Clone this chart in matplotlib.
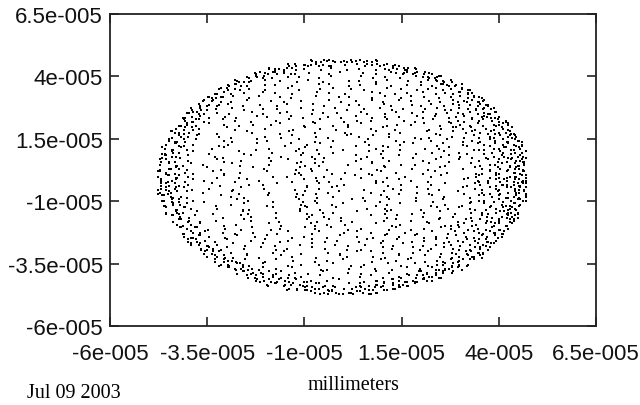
import matplotlib
matplotlib.use("Agg")
import matplotlib.pyplot as plt

# Dot map of the spot.
# A cell is ~1.03e-6 wide and 1.6e-6 high (data units, millimeters).
# Each row: first occupied column, then one char per cell:
# ' ' = empty, 1-9 = one dot, the digit tells where in the cell (keypad order).
grid_x0 = -4.77e-05
grid_y0 = 4.70e-05
cell_w = 1.03e-06
cell_h = 1.60e-06

dot_rows = [
    (38, "52 84" "6 3 1" "75 2 " "28"),
    (32, "3 7 5" "2 8 4" " 1  6" "  9 3" " 5 2 " "7 41"),
    (27, "6 4 2" " 8  5" "   3 " " 7   " "1  4 " "  2 6" " 9  3" "8 5"),
    (24, "48 2 " "7 5  " "1  6 " "   3 " " 8   " "  4  " "2   7" "  5 3" "9 26 "),
    (22, "3 6 8" " 2   " "5  4 " "   1 " " 7   " "   9 " " 3  6" "   2 " "  8 4" "5 17"),
    (19, "7 2 4" "  9  " " 5   " "3  8 " "  1  " "   6 " " 4   " "2  7 " "   5 " " 3 8 " "6 4 2"),
    (17, "5 83 " "1   6" "  4  " " 2   " "   7 " "9    " "3  5 " "  8  " " 1   " "4  6 " " 2 97" "3 5 "),
    (15, "4 7  " "2 6  " " 3   " "  8  " "1    " "5  9 " "   4 " " 2   " "  7  " "6   3" "  5 8" " 1 4 " "9 2"),
    (14, "3 8 1" "  5  " "  7  " "4   2" "     " "9  6 " "  3  " "    8" " 5   " "1  4 " "  7  " "2 6 3" " 8 5 "),
    (12, "6 2 4" " 9   " "3  7 " "   5 " " 1   " "  8  " "   4 " "6    " " 2  9" "   3 " " 7  5" "   1 " " 4 8 " "26 3"),
    (11, "8 5 3" "  1  " " 7   " "  4  " "2   6" "     " " 9  3" "   5 " "  8  " "1   7" "  4  " " 6  2" "  93 " "5 8 1" "4"),
    (10, "2 6  " "4 8  " " 1   " "5   3" "  7  " "   9 " " 2   " "  6  " "4    " " 8 1 " "   5 " "3  7 " " 2 9 " "4 6 3" "8 5"),
    (8, "7 3 1" " 5   " "8  2 " "   4 " " 6   " "  9  " "3    " " 7  1" "   5 " "  8  " "2  4 " "   6 " " 9 3 " "1 7 5" " 2 8 " "4"),
    (7, "4 9 2" "  6  " "3    " " 8  1" "   5 " "7    " " 2  4" "  6  " "   9 " "1   3" "  8  " " 5  7" "  2  " "4 6 1" "9 3 5" "2 8"),
    (6, "1 5 8" " 3   " "6  2 " "   9 " " 4   " "  7  " "1    " " 5  3" "   8 " "  2  " "6   4" "   9 " "1  7 " " 3 5 " "8 2 6" " 4 1 "),
    (6, "6 38 " "2    " "7  4 " "  1  " "   5 " " 9   " "  3 8" "     " "2  6 " "  4  " " 7   " "5  1 " "  9  " " 3 6 " "2 8 4" "7 5 1" "3"),
    (5, "3 7 2" "  9  " " 5   " "1  6 " "   4 " "8    " " 2  7" "   3 " "  5  " "9    " "  1 6" "   4 " " 8   " "2  7 " "5 3 9" " 1 6 " "4 8"),
    (4, "5 2 8" " 4   " "   7 " "1    " "  6  " "    3" "  9  " " 5   " "2  8 " "    4" "  7  " "1    " "   3 " " 6  9" "8 4 7" "1 6 3" " 9 2 "),
    (3, "8 4 6" "  1  " " 3   " "    7" "5    " "  2 9" "     " " 4   " "   6 " "1    " " 8  3" "  5  " "    7" " 2   " "9  6 " "8 5 2" "7 4 9" "1"),
    (3, "2 7 5" " 9   " "  4  " "1    " "   6 " "  3  " "8    " " 5  2" "    7" "  4  " "9   6" "     " " 1  3" "  8  " "5  2 " "9 1 6" "3 8 5" "27"),
    (2, "6 1 3" "  8  " "    5" " 2   " "  9  " "4    " "   7 " "  1  " " 6   " "    3" "8    " "  5 2" "   9 " " 4   " "7   1" " 5 2 " "9 4 7" "1 63"),
    (2, "4 8 2" " 6   " "   1 " "5    " "  9  " "    3" " 7   " "4  8 " "     " "  2  " "6   1" "   5 " " 9   " "  3 7" "    4" "1 9 5" "3 7 4" "8 26"),
    (1, "7 3 9" " 1   " "  5  " "8    " "   2 " " 6   " "    4" "9  3 " "  7  " "1    " "   5 " " 8  2" "     " "6   4" " 9   " "  3 1" "2 6 4" "9 3 7"),
    (1, "1 6 4" "  9  " " 3   " "    7" "2    " "  5  " "   8 " "4   1" "  6  " "     " " 9  3" "7    " "   2 " "  5  " "8   4" " 1   " "2 5 8" "4 1 6" "9"),
    (1, "9 5 2" " 8   " "   4 " "1    " "  7  " " 3  6" "    9" "  5  " "2    " "   8 " " 4   " "1   7" "  3  " "    6" " 9  5" "  2  " "3 6 9" "5 2 8" "4"),
    (0, "3 7 1" "  5  " "    9" " 2   " "6    " "   4 " "  8  " "3   7" " 1   " "    5" "9  2 " "  6  " "     " " 4  8" "  3  " "7    " "4 8 3" "7 1 5" "92"),
    (0, "5 9 3" " 1 7 " " 4   " "   8 " "2    " "  6  " "    9" " 3  7" "1    " "  5  " "   8 " " 2   " "6   4" "  9  " " 3   " "   7 " "2 6 4" "9 3 7" "15"),
    (0, "2 6 8" "4 1  " "  7  " "3    " "   9 " " 5   " "    2" "8  4 " "  1  " "     " "6   3" " 9   " "   5 " "  2  " "8    " " 4  7" "6 3 9" "5 2 8" "41"),
    (0, "8 4 1" " 6 3 " "   9 " " 2   " "5    " "  7  " "    1" "4  8 " "   2 " " 6   " "  3  " "9   5" "     " " 1  7" "  4  " "    2" "3 9 5" "1 7 4" "28"),
    (0, "4 9 2" "7 5  " "    3" " 8   " "1    " "   6 " "  4  " "9   2" " 5   " "    7" "3  8 " "  1  " " 6   " "   4 " "9    " "  2 5" "7 3 8" "1 6 4" "93"),
    (0, "6 2 8" " 3 9 " " 5   " "    1" "  7  " "4    " "   2 " " 8  6" "  3  " "9    " "    5" " 1   " "7  4 " "  2  " "     " " 8  6" "1 5 8" "2 4 7" "36"),
    (0, "9 3 7" "1 5  " "   8 " "2    " "  6  " " 4  9" "     " "  1  " "7   3" " 5   " "    8" "  2  " "6    " "   4 " " 9   " "  1 7" "5 8 2" "6 4 9" "17"),
    (0, "1 7 4" " 8 2 " "  6  " "   3 " "9    " " 5   " "    1" "  7  " "4  8 " "     " " 2   " "   6 " "3   9" "  5  " "1    " " 7  4" "3 9 5" "1 7 4" "82"),
    (0, "5 2 9" "  7  " " 4   " "   8 " "1    " "  6  " "    3" " 9  2" "  5  " "7    " "   4 " " 8   " "1   6" "  3  " "    9" " 2   " "6 3 9" "2 5 7" "48"),
    (1, "7 3 6" " 1   " "    9" "  4  " "2    " " 8   " "   5 " "7  3 " "  6  " "     " "1   9" " 4   " "   2 " "  8  " "5    " " 3  7" "8 5 7" "3 6 1" "9"),
    (1, "4 8 1" "  6  " "2    " "   9 " " 5   " "  3  " "    7" "1  4 " "     " "  8  " "6   2" " 9   " "   5 " "  3  " "7    " "  1 4" "5 3 7" "1 4 8" "6"),
    (1, "3 9 5" " 7   " "   2 " "  4  " "8    " " 1   " "    6" "3  9 " "  5  " "7    " "   2 " " 4  8" "     " "  1  " "6   3" " 9   " "8 1 6" "3 9 5"),
    (2, "7 2 8" " 4   " "  6  " "    1" "3    " " 9   " "   5 " "7  2 " "  8  " "     " "4   6" " 1   " "   3 " "  9  " "5  7 " "6 1 3" "9 5 7" "284"),
    (2, "1 6 4" "  9  " " 3   " "    7" "2    " "  5  " "   8 " "1   4" " 6   " "  9  " "    3" "7    " " 2  5" "   8 " "  1  " " 4 6 " "2 5 8" "146"),
    (3, "8 5 3" " 7   " "   1 " "  9  " "4    " " 2   " "    6" "8  5 " "  3  " "     " "7   1" " 9   " "   4 " "  2  " "6    " "1 9 4" "2 6 8" "53"),
    (3, "3 9 6" "  2  " " 5   " "   8 " "4    " "  1  " "    7" " 3  9" "  6  " "2    " "   5 " " 8   " "4   1" "  7  " " 3 9 " "5 8 4" "1 7 3" "9"),
    (4, "6 1 4" " 8   " "  2  " "5    " "   9 " " 3   " "    7" "1  4 " "  6  " "     " "8   2" " 5   " "   9 " "  3 1" "6 8 2" "5 9 3" " 7 1 "),
    (5, "9 4 7" "  2  " " 6   " "3  8 " "   1 " "5    " " 9  4" "   7 " "  2  " "6    " "  3 8" "   1 " " 5   " "9  4 " "7 2 6" " 3 8 " "1 5"),
    (6, "2 7 5" "9    " "4  1 " "  6  " "   3 " " 8   " "  2 7" "     " "5  9 " "  4  " " 1   " "6  3 " "  8  " " 2 7 " "5 9 4" "1 6 3" "8"),
    (6, "5 1 8" " 6   " "3  9 " "   4 " " 7   " "  2  " "5    " " 1  8" "   6 " "  3  " "9   4" "   7 " "2  5 " " 1 8 " "6 3 9" " 4 7 "),
    (7, "8 3 6" "  1  " "7    " " 4  9" "   2 " "5    " " 8  3" "  6  " "   1 " "7   4" "  9  " " 2  5" "  8  " "3 6 1" "7 4 9" "2 5"),
    (8, "4 8 2" " 6   " "9  3 " "   7 " " 1   " "  5  " "8    " " 4  2" "   6 " "  9  " "3  7 " "   1 " " 5 8 " "4 2 6" " 9 3 " "7"),
    (10, "6 1  " "3 7  " " 5   " "9   2" "  4  " "   8 " " 6   " "  1  " "3    " " 7 5 " "   9 " "2  4 " " 8 6 " "1 3 7" "5 9"),
    (11, "2 9 7" "  4  " " 1   " "  6  " "8   3" "     " " 5  2" "   9 " "  7  " "4   1" "  6  " " 8  3" "  52 " "9 7 4" "1"),
    (12, "4 6 8" " 3   " "7  1 " "   9 " " 5   " "  2  " "   8 " "4    " " 6  3" "   7 " " 1  9" "   5 " " 2 4 " "86 3"),
    (14, "7 2 5" "  9  " "  3  " "8   6" "     " "1  4 " "  7  " "    2" " 9   " "5  8 " "  3  " "6 1 7" " 4 9 "),
    (15, "1 5  " "8 3  " " 7   " "  2  " "6    " "4  9 " "   1 " " 5   " "  8  " "3   7" "  2 6" " 4 9 " "1 5"),
    (17, "9 46 " "2   7" "  5  " " 8   " "   3 " "1    " "6  9 " "  4  " " 2   " "7  5 " " 8 13" "6 9 "),
    (19, "3 8 6" "  1  " " 9   " "4  2 " "  7  " "   5 " " 3   " "8  6 " "   1 " " 9 4 " "2 7 5"),
    (22, "7 1 4" " 9   " "2  6 " "   8 " " 3   " "   5 " " 7  1" "   4 " "  9 2" "6 83"),
    (24, "52 9 " "3 6  " "8  1 " "   4 " " 7   " "  2  " "5   9" "  3 6" "1 84 "),
    (27, "2 8 6" " 4  1" "   7 " " 3   " "9  2 " "  5 8" " 6  4" "1 7"),
    (32, "6 3 9" "1 4 7" " 2  5" "  8 6" " 3 9 " "1 47"),
    (38, "74 52" "8 1 6" "39 4 " "15"),
]

# extra dots of the denser rim: (from the row's left end, ending at its right end)
rim_rows = [
    ("7 3 9 1 5", "2 8 4 6"),
    ("8 2 6 4 1 3", "7 9 5 3 1"),
    ("9 14 7 2", "3 6 81 7"),
    ("2 6 93 8 1", "5 17 4 9 2"),
    ("4 8 1", "3 69"),
    ("61 3", "8 2 7"),
    ("3 7", "4 19"),
    ("9 2 4", "6 3"),
    ("1 8", "7 25"),
    ("52 6", "9 4"),
    ("4 9", "1 3 8"),
    ("7 1 3", "62"),
    ("2 8", "5 4 9"),
    ("69 1", "3 7"),
    ("3 5", "8 1 4"),
    ("8 2 7", "9 6"),
    ("1 4", "2 75"),
    ("5 9 3", "4 8"),
    ("74 2", "1 6 3"),
    ("2 6", "9 5"),
    ("9 3 8", "2 74"),
    ("4 71", "6 3"),
    ("6 2", "8 1 5"),
    ("3 8 4", "4 9"),
    ("17 5", "2 6 3"),
    ("8 3", "7 51"),
    ("5 9 2", "3 8"),
    ("2 64", "9 4 1"),
    ("7 1", "6 27"),
    ("4 8 3", "1 5 9"),
    ("9 25", "8 3 74"),
    ("3 7", "4 6 29"),
    ("6 1 8", "7 19"),
    ("1 94", "5 3"),
    ("8 4", "2 8 6"),
    ("5 2 7", "9 4"),
    ("2 6", "3 71"),
    ("7 3 9", "6 2"),
    ("4 81", "8 5 3"),
    ("9 5", "1 7"),
    ("3 7 2", "4 96"),
    ("6 1", "7 3 8"),
    ("8 4 9", "2 5"),
    ("1 6", "9 4 1"),
    ("5 3 7", "36"),
    ("2 8", "7 1 5"),
    ("7 4 1", "4 9"),
    ("3 96", "8 2"),
    ("9 2", "1 6 4"),
    ("4 7 3", "5 8"),
    ("1 85 2", "3 7 9"),
    ("6 3 9 4", "9 2 4 1"),
    ("8 2 7 5 1", "2 6 8 3"),
    ("3 7 1 6 9 2", "7 1 5 4 9"),
    ("2 8 4 6 3 9 1", "3 9 2 7 5 1"),
    ("9 5 1 7 3 8 2 4", "6 2 8 4 1 3 7 5"),
    ("4 7 2 9 5 1 8 3", "8 3 6 1 9 4 2 7"),
    ("1 6 3 8 4 2 7", "5 9 3 7 2 6 8"),
    ("7 2 9 5 1", "4 8 3 6"),
]

tick_vals = [-6e-05, -3.5e-05, -1e-05, 1.5e-05, 4e-05, 6.5e-05]
tick_text = ["-6e-005", "-3.5e-005", "-1e-005", "1.5e-005", "4e-005", "6.5e-005"]


def add_cells(xs, ys, i, first_col, chars):
    for k, ch in enumerate(chars):
        if ch == " ":
            continue
        d = int(ch) - 1
        xs.append(grid_x0 + (first_col + k + 0.5 + (d % 3 - 1) / 3) * cell_w)
        ys.append(grid_y0 - (i + 0.5 + (1 - d // 3) / 3) * cell_h)


xs, ys = [], []
for i, (start, row) in enumerate(dot_rows):
    add_cells(xs, ys, i, start, row)
    left, right = rim_rows[i]
    add_cells(xs, ys, i, start, left)
    add_cells(xs, ys, i, start + len(row) - len(right), right)

fig = plt.figure(figsize=(6.4, 4.06), dpi=100)
ax = fig.add_axes([110 / 640, 79 / 406, 486 / 640, 312 / 406])

ax.plot(xs, ys, linestyle="none", marker="s", markersize=1.5,
        markeredgewidth=0, color="black", antialiased=False)

ax.set_xlim(-6e-05, 6.5e-05)
ax.set_ylim(-6e-05, 6.5e-05)
ax.set_xticks(tick_vals)
ax.set_yticks(tick_vals)

tick_font = {"family": "Liberation Sans", "size": 16}
ax.set_xticklabels(tick_text, fontdict=tick_font)
ax.set_yticklabels(tick_text, fontdict=tick_font)
ax.tick_params(direction="in", length=6.5, width=1.2, color="#222222",
               top=True, right=True, labelcolor="#111111")
ax.tick_params(axis="x", pad=12)
ax.tick_params(axis="y", pad=5)
for sp in ax.spines.values():
    sp.set_linewidth(1.3)
    sp.set_color("#222222")

ax.set_xlabel("millimeters", family="Liberation Serif", size=14.5, labelpad=8)
fig.text(27 / 640, 1 - 394 / 406, "Jul 09 2003", family="Liberation Serif",
         size=14.5, va="center", ha="left")

fig.savefig("out.png", dpi=100)
